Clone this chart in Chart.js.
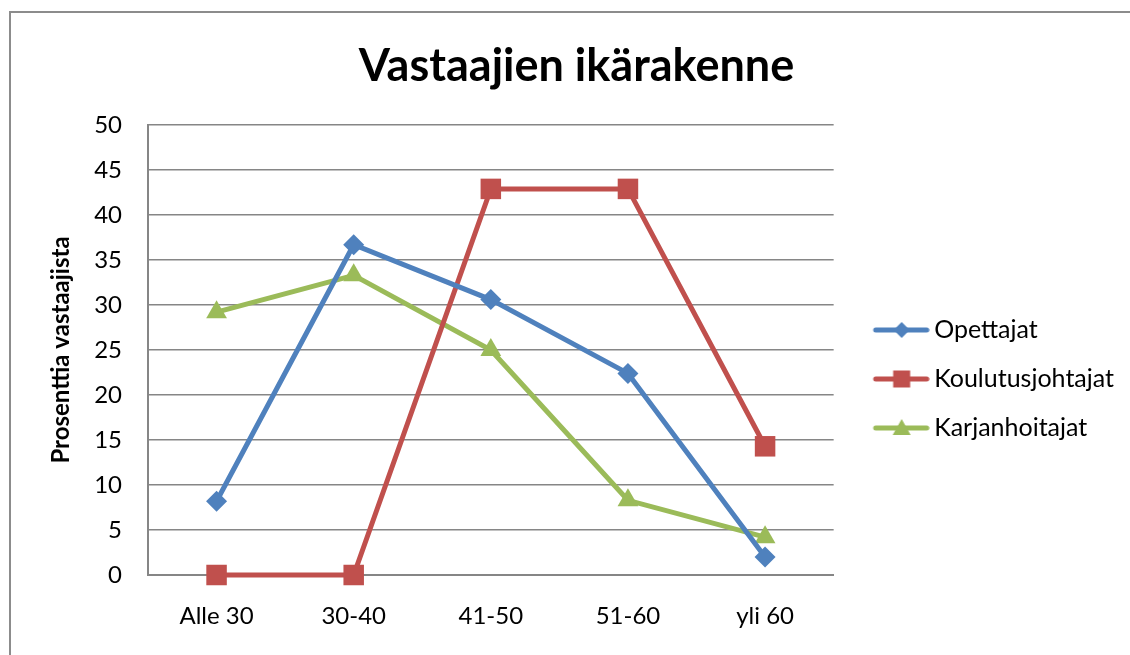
<!DOCTYPE html>
<html>
<head>
<meta charset="utf-8">
<script src="https://cdn.jsdelivr.net/npm/chart.js@4.4.0/dist/chart.umd.min.js"></script>
<style>
  html, body { margin: 0; padding: 0; background: #fff; overflow: hidden; }
  #frame { position: absolute; left: 9px; top: 11px; width: 1200px; height: 700px; border: 2px solid #8c8c8c; }
  #wrap { position: absolute; left: 0; top: 0; width: 1130px; height: 655px; }
</style>
</head>
<body>
<div id="frame"></div>
<div id="wrap"><canvas id="chart" width="1130" height="655"></canvas></div>
<script>
const categories = ['Alle 30', '30-40', '41-50', '51-60', 'yli 60'];
const opettajat = [8.2, 36.7, 30.6, 22.4, 2.0];
const koulutusjohtajat = [0, 0, 42.9, 42.9, 14.3];
const karjanhoitajat = [29.2, 33.3, 25.0, 8.3, 4.2];
const yMin = 0;
const yMax = 50;
const yStep = 5;

const FONT = 'Lato, "Liberation Sans", sans-serif';
const BLUE = '#4f81bd';
const RED = '#c0504d';
const GREEN = '#9bbb59';

// legend swatch: line with the marker in the middle, blank room on the left
function legendSwatch(color, shape) {
  const c = document.createElement('canvas');
  c.width = 80;
  c.height = 24;
  const ctx = c.getContext('2d');
  ctx.strokeStyle = color;
  ctx.fillStyle = color;
  ctx.lineWidth = 5;
  ctx.lineCap = 'round';
  ctx.beginPath();
  ctx.moveTo(26, 12);
  ctx.lineTo(77, 12);
  ctx.stroke();
  const cx = 52, cy = 12;
  ctx.beginPath();
  if (shape === 'diamond') {
    ctx.moveTo(cx, cy - 8); ctx.lineTo(cx + 8, cy); ctx.lineTo(cx, cy + 8); ctx.lineTo(cx - 8, cy);
  } else if (shape === 'square') {
    ctx.rect(cx - 8.5, cy - 8.5, 17, 17);
  } else {
    ctx.moveTo(cx, cy - 9); ctx.lineTo(cx + 9, cy + 7); ctx.lineTo(cx - 9, cy + 7);
  }
  ctx.closePath();
  ctx.fill();
  return c;
}

const swatches = [
  legendSwatch(BLUE, 'diamond'),
  legendSwatch(RED, 'square'),
  legendSwatch(GREEN, 'triangle'),
];

function makeDataset(label, data, color, pointStyle, radius) {
  return {
    label,
    data,
    borderColor: color,
    backgroundColor: color,
    borderWidth: 5,
    pointStyle,
    pointRadius: radius,
    pointHoverRadius: radius,
    pointBorderWidth: 0,
    pointBackgroundColor: color,
    tension: 0,
    clip: false,
  };
}

new Chart(document.getElementById('chart'), {
  type: 'line',
  data: {
    labels: categories,
    datasets: [
      makeDataset('Opettajat', opettajat, BLUE, 'rectRot', 10.5),
      makeDataset('Koulutusjohtajat', koulutusjohtajat, RED, 'rect', 14.5),
      makeDataset('Karjanhoitajat', karjanhoitajat, GREEN, 'triangle', 12),
    ],
  },
  options: {
    responsive: false,
    animation: false,
    events: [],
    layout: { padding: { left: 29, right: 6, top: 0, bottom: 22 } },
    plugins: {
      title: {
        display: true,
        text: 'Vastaajien ikärakenne',
        color: '#000',
        font: { family: FONT, size: 45, weight: 'bold' },
        padding: { top: 39, bottom: 32 },
      },
      legend: {
        position: 'right',
        maxWidth: 400,
        // empty title only pushes the entries down to where they sit in the original
        title: { display: true, text: ' ', font: { size: 10 }, padding: { top: 113, bottom: 0 } },
        labels: {
          color: '#000',
          font: { family: FONT, size: 25 },
          usePointStyle: true,
          pointStyleWidth: 64,
          padding: 24,
          generateLabels: (chart) => chart.data.datasets.map((ds, i) => ({
            text: ds.label,
            fillStyle: ds.borderColor,
            strokeStyle: ds.borderColor,
            lineWidth: 0,
            pointStyle: swatches[i],
            datasetIndex: i,
            fontColor: '#000',
          })),
        },
      },
      tooltip: { enabled: false },
    },
    scales: {
      x: {
        offset: true,
        grid: { display: false, drawTicks: false },
        border: { display: true, color: '#868686', width: 2 },
        ticks: { color: '#000', font: { family: FONT, size: 24 }, padding: 27 },
        afterFit: (scale) => { scale.height = 58; },
      },
      y: {
        min: yMin,
        max: yMax,
        ticks: { stepSize: yStep, color: '#000', font: { family: FONT, size: 24 }, padding: 26 },
        grid: { color: '#868686', lineWidth: 1.5, drawTicks: false },
        border: { display: true, color: '#868686', width: 2 },
        title: {
          display: true,
          text: 'Prosenttia vastaajista',
          color: '#000',
          font: { family: FONT, size: 24, weight: 'bold' },
          padding: { top: 18, bottom: 0 },
        },
        afterFit: (scale) => { scale.width = 119; },
      },
    },
  },
});
</script>
</body>
</html>
